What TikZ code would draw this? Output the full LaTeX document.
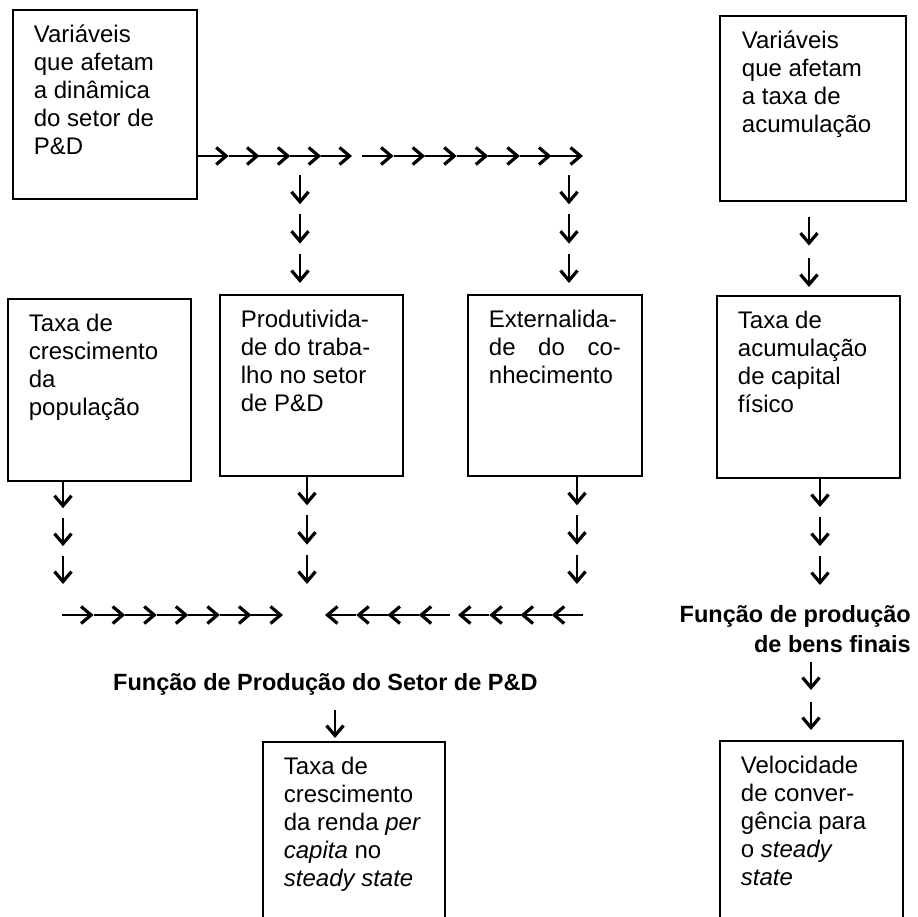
\documentclass[tikz,border=0pt]{standalone}
\usepackage{fontspec}
\setmainfont{Liberation Sans}
\usetikzlibrary{arrows.meta,calc}
\tikzset{
  caixa/.style={draw, line width=1.8pt, rectangle, inner xsep=21pt, inner ysep=0pt, anchor=north west, font=\fontsize{24}{28}\selectfont},
  glyph/.style={line width=2.4pt, -{Straight Barb[length=10pt,width=17pt,line width=3.2pt]}},
  titulo/.style={font=\fontsize{23.5}{30}\selectfont\bfseries, inner sep=0pt},
}
\newcommand\boxtext[3]{\parbox[t][#2][t]{#1}{\raggedright\rule{0pt}{33pt}#3}}
% chain of arrow glyphs: start, end, number, gap ratio
\newcommand\arrowchain[4]{%
  \pgfmathsetmacro\gl{1/((#3-1)*(1+#4)+1)}%
  \pgfmathsetmacro\gp{\gl*(1+#4)}%
  \foreach \i in {1,...,#3}{%
    \pgfmathsetmacro\ta{(\i-1)*\gp}%
    \pgfmathsetmacro\tb{\ta+\gl}%
    \draw[glyph] ($(#1)!\ta!(#2)$) -- ($(#1)!\tb!(#2)$);
  }}
\begin{document}
\begin{tikzpicture}[x=1pt,y=-1pt]
\useasboundingbox (0,0) rectangle (918,916);
\clip (0,0) rectangle (918,916);

% boxes
\node[caixa] (B1) at (12,9) {\boxtext{142pt}{189pt}{Variáveis\\que afetam\\a dinâmica\\do setor de\\P\&D}};
\node[caixa, inner xsep=22pt] (B6) at (719,15) {\boxtext{142pt}{185pt}{Variáveis\\que afetam\\a taxa de\\acumulação}};
\node[caixa] (B2) at (7,298) {\boxtext{141pt}{182pt}{Taxa de\\crescimento\\da\\população}};
\node[caixa] (B3) at (219,294) {\boxtext{141pt}{181pt}{Produtivida-\\de do traba-\\lho no setor\\de P\&D}};
\node[caixa] (B4) at (467,294) {\boxtext{132pt}{181pt}{Externalida-\\\makebox[\linewidth][s]{de do co-}\\nhecimento}};
\node[caixa] (B5) at (716,295) {\boxtext{141pt}{182pt}{Taxa de\\acumulação\\de capital\\físico}};
\node[caixa] (B7) at (262,741) {\boxtext{140pt}{200pt}{Taxa de\\crescimento\\da renda \textit{per}\\\textit{capita} no\\\textit{steady state}}};
\node[caixa] (B8) at (719,740) {\boxtext{141pt}{200pt}{Velocidade\\de conver-\\gência para\\o \textit{steady}\\\textit{state}}};

% bold labels
\node[titulo, anchor=base west] (FP) at (113,690) {Função de Produção do Setor de P\&D};
\node[titulo, anchor=base east] (FB) at (911,622) {\parbox[t]{260pt}{\raggedleft Função de produção\\de bens finais}};

% top horizontal chain
\coordinate (h0) at (B1.east |- 0,156);
\coordinate (h1) at (352,156);
\coordinate (h2) at (362,156);
\coordinate (h3) at (583,156);
\arrowchain{h0}{h1}{5}{0}
\arrowchain{h2}{h3}{7}{0}

% vertical chains from the top line
\coordinate (v1a) at (300,175); \coordinate (v1b) at (300,283);
\coordinate (v2a) at (569,175); \coordinate (v2b) at (569,283);
\arrowchain{v1a}{v1b}{3}{0.345}
\arrowchain{v2a}{v2b}{3}{0.345}

% right top chain
\coordinate (r1a) at (809,217); \coordinate (r1b) at (809,287);
\arrowchain{r1a}{r1b}{2}{0.45}

% chains below middle boxes
\coordinate (d2a) at (63,480);  \coordinate (d2b) at (63,584);
\coordinate (d3a) at (307,476); \coordinate (d3b) at (307,584);
\coordinate (d4a) at (577,476); \coordinate (d4b) at (577,584);
\coordinate (d5a) at (820,478); \coordinate (d5b) at (820,585);
\arrowchain{d2a}{d2b}{3}{0.345}
\arrowchain{d3a}{d3b}{3}{0.345}
\arrowchain{d4a}{d4b}{3}{0.345}
\arrowchain{d5a}{d5b}{3}{0.345}

% bottom horizontal chains
\coordinate (l0) at (62,615);  \coordinate (l1) at (283,615);
\coordinate (k0) at (583,615); \coordinate (k1) at (458,615);
\coordinate (k2) at (450,615); \coordinate (k3) at (325,615);
\arrowchain{l0}{l1}{7}{0}
\arrowchain{k0}{k1}{4}{0}
\arrowchain{k2}{k3}{4}{0}

% to the final boxes
\coordinate (f1a) at (335,710); \coordinate (f1b) at (335,738);
\arrowchain{f1a}{f1b}{1}{0}
\coordinate (f2a) at (811,662); \coordinate (f2b) at (811,730);
\arrowchain{f2a}{f2b}{2}{0.43}
\end{tikzpicture}
\end{document}
